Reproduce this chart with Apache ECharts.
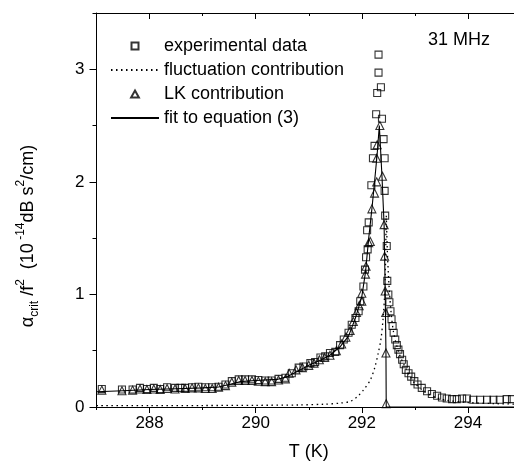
<!DOCTYPE html>
<html><head><meta charset="utf-8">
<script src="https://cdn.jsdelivr.net/npm/echarts@6/dist/echarts.min.js"></script>
<style>html,body{margin:0;padding:0;background:#fff}#c{width:514px;height:464px}</style>
</head><body><div id="c"></div>
<script>
// ---- data ----
const expT = [287.10,287.48,287.68,287.82,287.95,288.08,288.20,288.33,288.48,288.58,288.67,288.80,288.92,289.05,289.18,289.30,289.43,289.55,289.68,289.80,289.93,290.05,290.18,290.30,290.43,290.56,290.68,290.81,290.90,291.03,291.12,291.22,291.31,291.40,291.50,291.59,291.66,291.75,291.81,291.88,291.94,291.97,292.03,292.06,292.08,292.11,292.10,292.13,292.18,292.21,292.24,292.27,292.29,292.315,292.315,292.36,292.38,292.41,292.43,292.43,292.44,292.47,292.48,292.50,292.52,292.54,292.56,292.58,292.60,292.63,292.66,292.69,292.72,292.76,292.79,292.83,292.88,292.93,292.99,293.05,293.13,293.23,293.32,293.42,293.51,293.60,293.70,293.79,293.89,293.98,294.10,294.23,294.36,294.48,294.60,294.73,294.83];
const expY = [0.16,0.155,0.155,0.17,0.16,0.17,0.16,0.175,0.17,0.17,0.17,0.175,0.18,0.175,0.175,0.18,0.20,0.23,0.245,0.245,0.245,0.24,0.235,0.235,0.25,0.26,0.30,0.35,0.36,0.39,0.40,0.44,0.45,0.48,0.49,0.55,0.60,0.66,0.73,0.79,0.85,0.94,1.07,1.22,1.33,1.40,1.57,1.64,1.97,2.21,2.32,2.60,2.79,2.97,3.13,2.84,2.56,2.38,2.21,1.92,1.70,1.43,1.12,1.00,0.93,0.85,0.78,0.72,0.66,0.60,0.55,0.51,0.47,0.42,0.38,0.33,0.30,0.27,0.23,0.20,0.17,0.14,0.115,0.10,0.085,0.075,0.07,0.07,0.075,0.075,0.065,0.065,0.065,0.065,0.065,0.07,0.07];

const lkT = [287.10,287.48,287.68,287.82,287.95,288.08,288.20,288.33,288.48,288.67,288.80,288.92,289.05,289.18,289.30,289.43,289.55,289.68,289.80,289.93,290.05,290.18,290.30,290.43,290.56,290.63,290.76,290.88,291.00,291.10,291.20,291.30,291.40,291.52,291.62,291.70,291.78,291.84,291.90,291.95,292.00,292.00,292.07,292.08,292.13,292.16,292.19,292.24,292.28,292.28,292.29,292.34,292.39,292.42,292.43,292.44,292.45,292.455,292.46];
const lkY = [0.15,0.145,0.15,0.16,0.155,0.16,0.155,0.165,0.16,0.165,0.17,0.17,0.165,0.165,0.175,0.19,0.22,0.235,0.235,0.235,0.23,0.225,0.225,0.24,0.25,0.30,0.33,0.35,0.37,0.39,0.42,0.44,0.46,0.50,0.56,0.62,0.68,0.76,0.84,0.90,0.94,1.01,1.18,1.25,1.46,1.47,1.76,1.90,2.00,2.21,2.33,2.50,2.05,1.62,1.34,1.03,0.84,0.48,0.03];

const fluctT = [287.0,288.0,289.0,290.0,290.8,291.3,291.6,291.78,291.91,292.03,292.16,292.25,292.31,292.36,292.40,292.43,292.45,292.46,292.48,292.51,292.55,292.60,292.70,292.80,292.90,293.00,293.20,293.40,293.60,294.00,294.50,295.00];
const fluctY = [0.012,0.012,0.013,0.015,0.018,0.025,0.035,0.05,0.09,0.15,0.24,0.36,0.48,0.60,0.78,1.00,1.35,1.70,1.40,1.10,0.85,0.66,0.48,0.37,0.28,0.21,0.13,0.085,0.06,0.04,0.03,0.025];

const fitT = [287.0,287.5,288.0,288.5,289.0,289.3,289.5,289.7,290.0,290.4,290.6,290.8,291.0,291.2,291.4,291.6,291.75,291.88,292.0,292.07,292.13,292.19,292.24,292.29,292.33,292.38,292.42,292.44,292.455,292.46,295.0];
const fitY = [0.135,0.145,0.155,0.162,0.17,0.178,0.20,0.225,0.235,0.245,0.27,0.32,0.37,0.41,0.46,0.54,0.63,0.79,0.98,1.20,1.50,1.76,2.00,2.25,2.50,2.05,1.62,1.05,0.48,0.0,0.0];

const xMajor = [288, 290, 292, 294];
const yMajor = [0, 1, 2, 3];
const seriesNames = ['experimental data', 'fluctuation contribution', 'LK contribution', 'fit to equation (3)'];
const freqLabel = '31 MHz';
const xTitle = 'T (K)';

// ---- chart ----
const FONT = 'Liberation Sans, Arial, sans-serif';
const zip = (a, b) => a.map((v, i) => [v, b[i]]);
const chart = echarts.init(document.getElementById('c'), null, {renderer: 'canvas'});
const black = '#000';
const clear = 'rgba(255,255,255,0)';
const xBase = {type: 'value', min: 287, max: 295, splitLine: {show: false}, axisPointer: {show: false}};
const yBase = {type: 'value', min: 0, max: 3.5, splitLine: {show: false}, axisPointer: {show: false}};
const line = {show: true, onZero: false, lineStyle: {color: black, width: 1}};
const noLine = {show: false, onZero: false};
const hiddenSymbol = {color: clear, borderColor: clear, borderWidth: 0};
chart.setOption({
  animation: false,
  backgroundColor: '#fff',
  grid: {left: 96.5, right: -7, top: 13, bottom: 57, containLabel: false, outerBoundsMode: 'none'},
  xAxis: [
    Object.assign({}, xBase, {position: 'bottom', interval: 1, axisLine: line,
      axisTick: {show: true, length: 3, lineStyle: {color: black}},
      axisLabel: {show: true, color: black, fontSize: 17, fontFamily: FONT, margin: 8,
        formatter: v => (xMajor.indexOf(v) >= 0 ? String(v) : '')},
      name: xTitle, nameLocation: 'middle', nameGap: 36,
      nameTextStyle: {color: black, fontSize: 18, fontFamily: FONT}}),
    Object.assign({}, xBase, {position: 'bottom', axisLine: noLine,
      axisTick: {show: true, length: 6, customValues: xMajor, lineStyle: {color: black}},
      axisLabel: {show: false}}),
    Object.assign({}, xBase, {position: 'top', interval: 1, axisLine: line,
      axisTick: {show: true, inside: true, length: 3, lineStyle: {color: black}},
      axisLabel: {show: false}}),
    Object.assign({}, xBase, {position: 'top', axisLine: noLine,
      axisTick: {show: true, inside: true, length: 6, customValues: xMajor, lineStyle: {color: black}},
      axisLabel: {show: false}})
  ],
  yAxis: [
    Object.assign({}, yBase, {position: 'left', interval: 0.5, axisLine: line,
      axisTick: {show: true, length: 4, lineStyle: {color: black}},
      axisLabel: {show: true, color: black, fontSize: 17, fontFamily: FONT, margin: 12,
        formatter: v => (yMajor.indexOf(v) >= 0 ? String(v) : '')}}),
    Object.assign({}, yBase, {position: 'left', axisLine: noLine,
      axisTick: {show: true, length: 7, customValues: yMajor, lineStyle: {color: black}},
      axisLabel: {show: false}}),
    Object.assign({}, yBase, {position: 'right', interval: 0.5, axisLine: line,
      axisTick: {show: true, inside: true, length: 4, lineStyle: {color: black}},
      axisLabel: {show: false}}),
    Object.assign({}, yBase, {position: 'right', axisLine: noLine,
      axisTick: {show: true, inside: true, length: 7, customValues: yMajor, lineStyle: {color: black}},
      axisLabel: {show: false}})
  ],
  legend: {
    show: true, orient: 'vertical', left: 105, top: 29, itemWidth: 48, itemHeight: 7, itemGap: 0,
    symbolKeepAspect: true,
    data: [
      {name: seriesNames[0], icon: 'path://M0,0L10,0L10,10L0,10Z'},
      {name: seriesNames[1], itemStyle: hiddenSymbol},
      {name: seriesNames[2], icon: 'path://M5,0L10,9L0,9Z'},
      {name: seriesNames[3], itemStyle: hiddenSymbol}
    ],
    textStyle: {color: black, fontSize: 18, fontFamily: FONT, lineHeight: 24}
  },
  graphic: [
    {type: 'text', left: 428, top: 31, style: {text: freqLabel, fill: black, fontSize: 18, fontFamily: FONT}},
    {type: 'text', x: 28, y: 236, rotation: Math.PI / 2,
      style: {
        text: '{a|α}{s|crit}{a| /f}{p|2}{a|  (10}{p| -14}{a|dB s}{p|2}{a|/cm)}',
        align: 'center', verticalAlign: 'middle', fill: black,
        rich: {
          a: {fontSize: 18, fontFamily: FONT, lineHeight: 26, verticalAlign: 'middle', fill: black},
          s: {fontSize: 12, fontFamily: FONT, verticalAlign: 'bottom', fill: black},
          p: {fontSize: 12, fontFamily: FONT, verticalAlign: 'top', fill: black}
        }
      }}
  ],
  series: [
    {name: seriesNames[3], type: 'line', data: zip(fitT, fitY), symbol: 'none', z: 3,
      lineStyle: {color: black, width: 1.1}, itemStyle: {color: black}},
    {name: seriesNames[1], type: 'line', data: zip(fluctT, fluctY), symbol: 'none', smooth: 0.3, z: 2,
      lineStyle: {color: black, width: 1.3, type: [1.5, 3.5]}, itemStyle: {color: black}},
    {name: seriesNames[0], type: 'scatter', data: zip(expT, expY), symbol: 'rect', symbolSize: 7, z: 4,
      itemStyle: {color: clear, borderColor: black, borderWidth: 1.1}},
    {name: seriesNames[2], type: 'scatter', data: zip(lkT, lkY), symbol: 'triangle', symbolSize: 8, z: 5,
      itemStyle: {color: clear, borderColor: black, borderWidth: 1.1}}
  ]
});
</script>
</body></html>
